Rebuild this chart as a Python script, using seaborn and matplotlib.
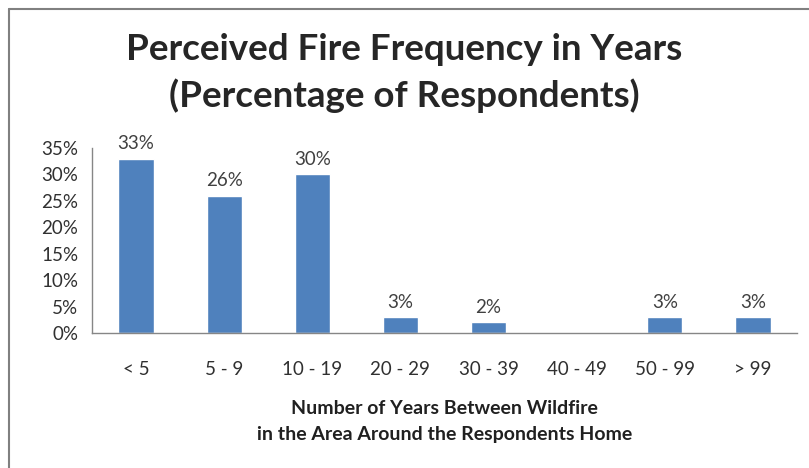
import matplotlib
matplotlib.use("Agg")
import matplotlib.pyplot as plt
import matplotlib.lines as mlines
from matplotlib.ticker import FixedLocator, PercentFormatter
import seaborn as sns

# Data
categories = ["< 5", "5 - 9", "10 - 19", "20 - 29", "30 - 39", "40 - 49", "50 - 99", "> 99"]
percent = [33, 26, 30, 3, 2, 0, 3, 3]
labels = ["33%", "26%", "30%", "3%", "2%", "", "3%", "3%"]

sns.set_style("white")
plt.rcParams['font.family'] = ['Lato', 'DejaVu Sans']

fig = plt.figure(figsize=(8.09, 4.68), dpi=100)
ax = fig.add_axes([92 / 809, 1 - 333 / 468, (797 - 92) / 809, (333 - 148) / 468])

sns.barplot(x=categories, y=percent, color="#4F81BD", width=0.4, saturation=1, ax=ax)

# value labels above bars
for i, (v, lab) in enumerate(zip(percent, labels)):
    if lab:
        ax.text(i, v + 1.2, lab, ha="center", va="bottom", fontsize=13.5, color="#404040")

ax.set_ylim(0, 35)
ax.set_xlim(-0.5, len(categories) - 0.5)
ax.set_yticks(range(0, 36, 5))
ax.yaxis.set_major_formatter(PercentFormatter(decimals=0))
ax.xaxis.set_minor_locator(FixedLocator([i - 0.5 for i in range(len(categories) + 1)]))
ax.tick_params(axis="x", which="major", length=0, pad=20, labelsize=13.5, labelcolor="#303030")
ax.tick_params(axis="x", which="minor", length=6, color="#868686", direction="out")
ax.tick_params(axis="y", length=6, color="#868686", direction="out", labelsize=13.5, labelcolor="#303030", pad=4)

for side in ["top", "right"]:
    ax.spines[side].set_visible(False)
for side in ["left", "bottom"]:
    ax.spines[side].set_color("#868686")
    ax.spines[side].set_linewidth(1)

ax.set_ylabel("")
ax.set_xlabel("Number of Years Between Wildfire\nin the Area Around the Respondents Home",
              fontsize=14, fontweight="bold", labelpad=16, linespacing=1.65, color="#202020")

fig.text(0.5, 1 - 73 / 468, "Perceived Fire Frequency in Years\n(Percentage of Respondents)",
         ha="center", va="center", fontsize=26.5, fontweight="bold", linespacing=1.45)

# chart frame (left and top edges)
fig.add_artist(mlines.Line2D([8.5 / 809, 8.5 / 809], [0, 1 - 9 / 468], color="#808080", lw=1.5))
fig.add_artist(mlines.Line2D([8.5 / 809, 1], [1 - 9 / 468, 1 - 9 / 468], color="#808080", lw=1.5))

plt.savefig("out.png", dpi=100)
plt.close()
